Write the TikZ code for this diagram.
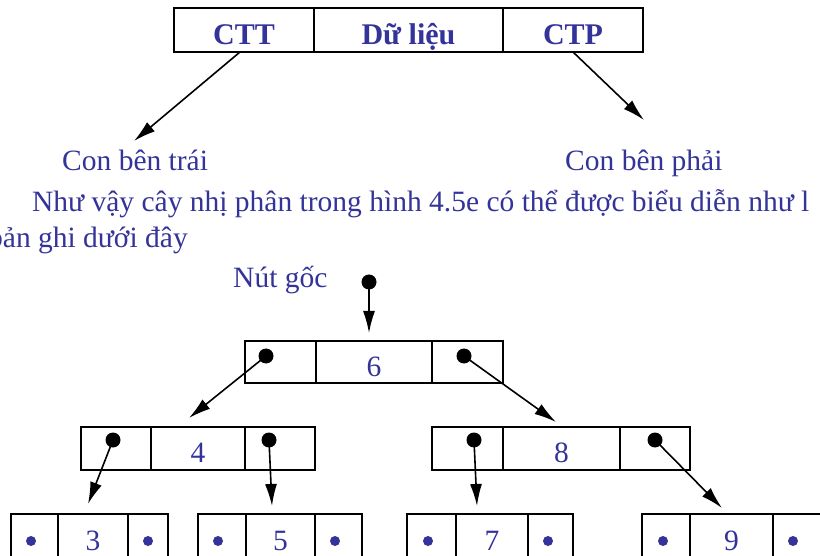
\documentclass[tikz,border=0pt]{standalone}
\usepackage{fontspec}
\setmainfont{Liberation Serif}
\usetikzlibrary{arrows.meta}
\definecolor{ink}{RGB}{51,51,153}

% one record of three cells: name, x, y, three widths, height
\newcommand\drawrecord[7]{%
  \node[cell, minimum width=#4pt, minimum height=#7pt] (#1l) at (#2,#3) {};
  \node[cell, minimum width=#5pt, minimum height=#7pt] (#1m) at (#1l.north east) {};
  \node[cell, minimum width=#6pt, minimum height=#7pt] (#1r) at (#1m.north east) {};
}

\begin{document}
\begin{tikzpicture}[x=1pt,y=-1pt,
  cell/.style={draw=black, line width=1.8pt, inner sep=0pt, outer sep=0pt, anchor=north west},
  txt/.style={text=ink, font=\fontsize{29.5}{35}\selectfont, inner sep=0pt},
  head/.style={txt, font=\fontsize{30}{36}\selectfont\bfseries, anchor=base},
  num/.style={txt, anchor=base},
  bigdot/.style={circle, fill=black, inner sep=0pt, minimum size=15pt},
  smalldot/.style={circle, fill=ink, inner sep=0pt, minimum size=10pt},
  ptr/.style={line width=1.6pt, -{Latex[length=22pt,width=12pt]}}]
\useasboundingbox (0,0) rectangle (820,556);
\clip (0,0) rectangle (820,556);

% record layout: left link, data, right link
\drawrecord{top}{174}{8}{140}{189}{140}{44}
\node[head] at ([yshift=-15pt]topl.center) {CTT};
\node[head] at ([yshift=-15pt]topm.center) {Dữ liệu};
\node[head] at ([yshift=-15pt]topr.center) {CTP};

\coordinate (cttout) at (240,52);
\coordinate (ctpout) at (573,52);
\coordinate (lefttip) at (134,141);
\coordinate (righttip) at (644,120);
\draw[ptr] (cttout) -- (lefttip);
\draw[ptr] (ctpout) -- (righttip);

\node[txt, anchor=base west] (lchild) at (62,171) {Con bên trái};
\node[txt, anchor=base west] (rchild) at (565,171) {Con bên phải};

\node[txt, anchor=base west] (line1) at (32,212) {Như vậy cây nhị phân trong hình 4.5e có thể được biểu diễn như l};
\node[txt, anchor=base west] (line2) at (-12,248) {bản ghi dưới đây};

% the tree
\node[txt, anchor=base west] (rootlabel) at (233,288) {Nút gốc};
\node[bigdot] (rootptr) at (369,282) {};

\drawrecord{n6}{245}{341}{71}{116}{71}{42}
\drawrecord{n4}{81}{427}{70}{94}{70}{43}
\drawrecord{n8}{432}{427}{71}{117}{70}{43}
\drawrecord{n3}{11}{514}{47}{70}{40}{44}
\drawrecord{n5}{198}{514}{48}{69}{47}{44}
\drawrecord{n7}{407}{514}{49}{72}{45}{44}
\drawrecord{n9}{642}{514}{48}{83}{49}{44}

\node[num] at ([yshift=-14pt]n6m.center) {6};
\node[num] at ([yshift=-14pt]n4m.center) {4};
\node[num] at ([yshift=-14pt]n8m.center) {8};
\node[num] at ([yshift=-14pt]n3m.center) {3};
\node[num] at ([yshift=-14pt]n5m.center) {5};
\node[num] at ([yshift=-14pt]n7m.center) {7};
\node[num] at ([yshift=-14pt]n9m.center) {9};

% links that point to a child
\node[bigdot] (d6l) at (266,356) {};
\node[bigdot] (d6r) at (464,356) {};
\node[bigdot] (d4l) at (113,440) {};
\node[bigdot] (d4r) at (269,440) {};
\node[bigdot] (d8l) at (474,440) {};
\node[bigdot] (d8r) at (655,440) {};

% empty links of the leaves
\node[smalldot] (d3l) at (31,541) {};
\node[smalldot] (d3r) at (148,541) {};
\node[smalldot] (d5l) at (218,541) {};
\node[smalldot] (d5r) at (335,541) {};
\node[smalldot] (d7l) at (428,541) {};
\node[smalldot] (d7r) at (548,541) {};
\node[smalldot] (d9l) at (663,541) {};
\node[smalldot] (d9r) at (793,541) {};

\coordinate (t6) at (369,333);
\coordinate (t4) at (189,418);
\coordinate (t8) at (556,422);
\coordinate (t3) at (88,504);
\coordinate (t5) at (272,506);
\coordinate (t7) at (477,506);
\coordinate (t9) at (722,508);

\draw[ptr] (rootptr.center) -- (t6);
\draw[ptr] (d6l.center) -- (t4);
\draw[ptr] (d6r.center) -- (t8);
\draw[ptr] (d4l.center) -- (t3);
\draw[ptr] (d4r.center) -- (t5);
\draw[ptr] (d8l.center) -- (t7);
\draw[ptr] (d8r.center) -- (t9);
\end{tikzpicture}
\end{document}
